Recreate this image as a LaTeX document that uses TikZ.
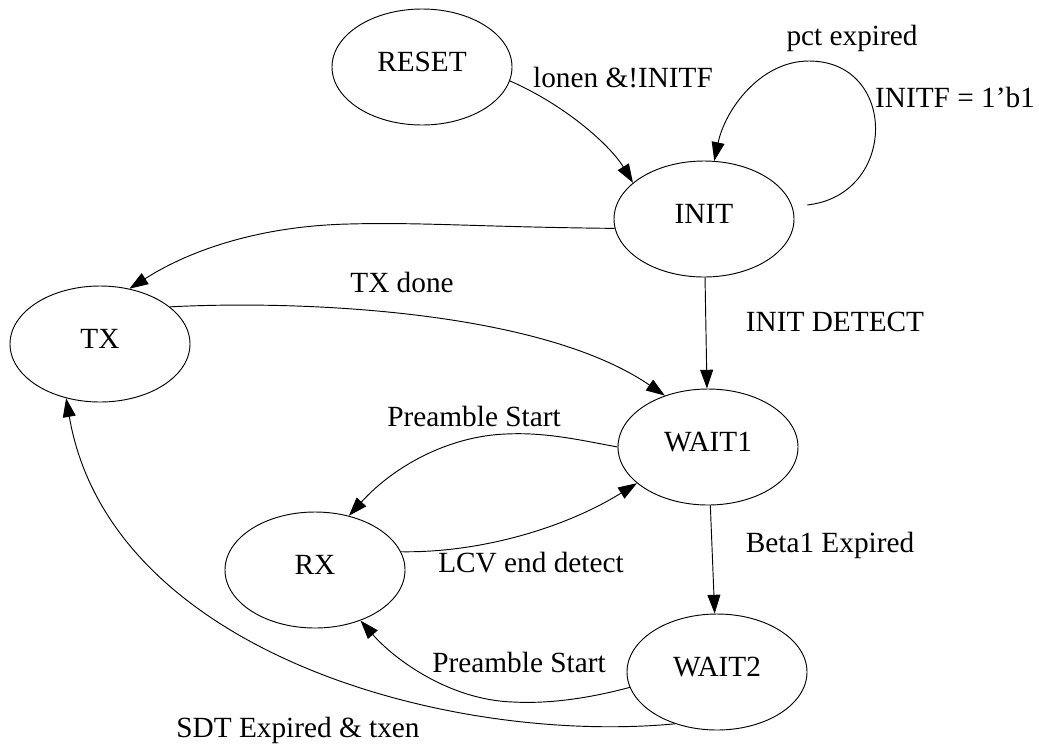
\documentclass[tikz,border=0pt]{standalone}
\usepackage{fontspec}
\setmainfont{Liberation Serif}
\usepackage{tikz}
\usetikzlibrary{shapes.geometric,arrows.meta}

\begin{document}
\begin{tikzpicture}[x=0.03cm, y=-0.03cm, line width=0.8pt,
  >={Triangle[length=16pt,width=11pt]},
  statenode/.style={ellipse, draw, minimum width=5.4cm, minimum height=3.48cm,
    inner sep=0pt, text depth=0.3cm, font=\fontsize{25}{30}\selectfont},
  edgelabel/.style={inner sep=0pt, font=\fontsize{25}{30}\selectfont}]
  \useasboundingbox (0,0) rectangle (1039,744);
  % States
  \node[statenode] (reset) at (422,67)  {RESET};
  \node[statenode] (init)  at (704,219) {INIT};
  \node[statenode] (tx)    at (100,344) {TX};
  \node[statenode] (wait1) at (708,447) {WAIT1};
  \node[statenode] (rx)    at (315,570) {RX};
  \node[statenode] (wait2) at (717,672) {WAIT2};
  % Reset into init
  \draw[->] (reset.-9) .. controls (565,105) and (610,145) .. (init.153);
  % Init stays in init
  \draw[->, shorten <=0.45cm] (init.8) .. controls (898,195) and (898,61) .. (809,61)
        .. controls (760,61) and (725,110) .. (init.80);
  % Init to tx, tx back to wait1
  \draw[->] (init.186) .. controls (480,227) and (420,222) .. (349,224)
        .. controls (260,226) and (190,250) .. (tx.62);
  \draw[->] (tx.28) .. controls (300,300) and (540,310) .. (wait1.130);
  % Init detect
  \draw[->] (init) -- (wait1);
  % Wait1 and rx
  \draw[->] (wait1.180) .. controls (580,440) and (545,432) .. (506,434)
        .. controls (450,436) and (395,465) .. (rx.58);
  \draw[->] (rx.12) .. controls (480,553) and (565,528) .. (wait1.207);
  % Wait1 to wait2
  \draw[->] (wait1) -- (wait2);
  % Out of wait2
  \draw[->] (wait2.190) .. controls (590,698) and (550,704) .. (513,702)
        .. controls (450,700) and (395,660) .. (rx.-48);
  \draw[->] (wait2.231) .. controls (450,745) and (110,653) .. (tx.238);
  % Labels
  \node[edgelabel] (lreset)  at (623,78)  {lonen \&!INITF};
  \node[edgelabel] (lpct)    at (852,38)  {pct expired};
  \node[edgelabel] (linitf)  at (955,97)  {INITF = 1'b1};
  \node[edgelabel] (ltxdone) at (402,282) {TX done};
  \node[edgelabel] (ldetect) at (835,322) {INIT DETECT};
  \node[edgelabel] (lpre1)   at (474,416) {Preamble Start};
  \node[edgelabel] (llcv)    at (531,563) {LCV end detect};
  \node[edgelabel] (lbeta)   at (830,545) {Beta1 Expired};
  \node[edgelabel] (lpre2)   at (519,662) {Preamble Start};
  \node[edgelabel] (lsdt)    at (298,730) {SDT Expired \& txen};
\end{tikzpicture}
\end{document}
